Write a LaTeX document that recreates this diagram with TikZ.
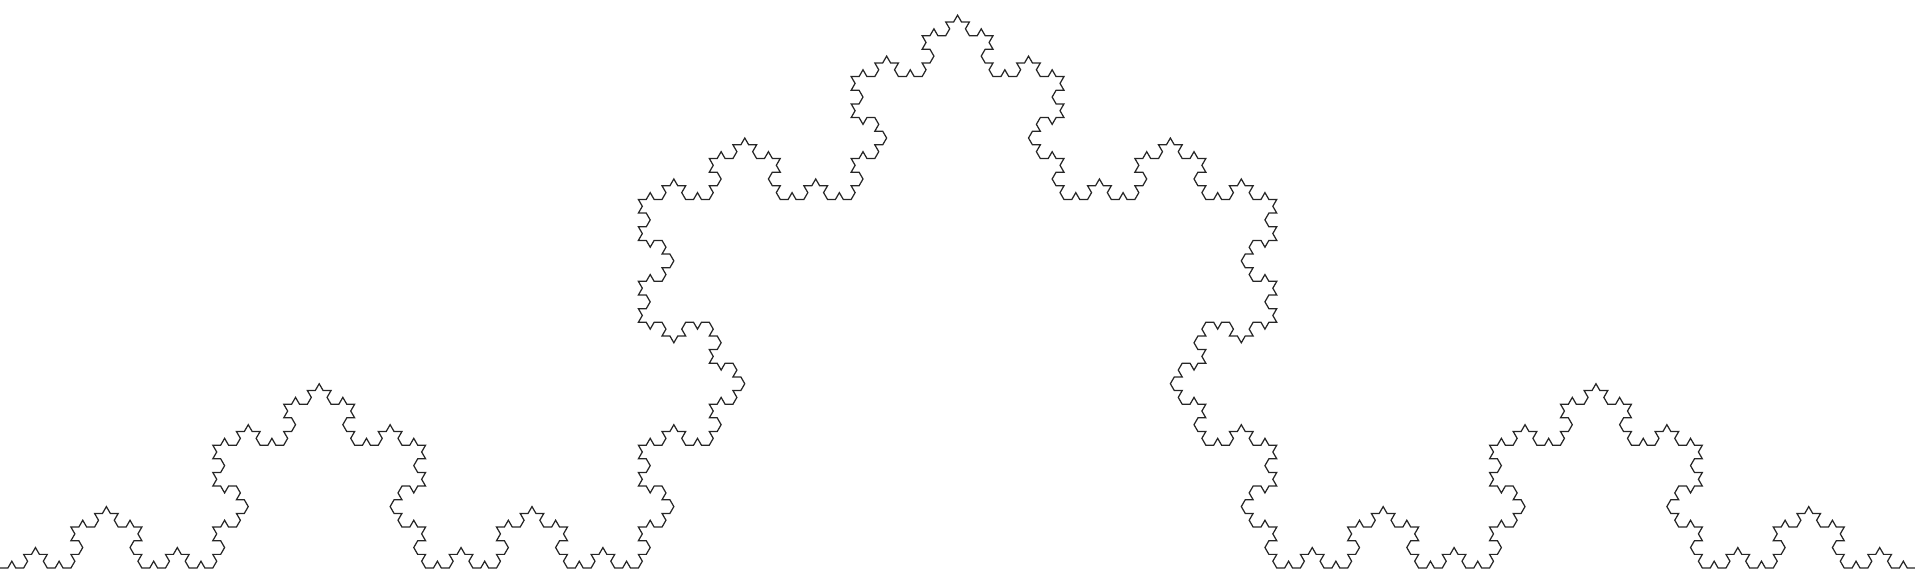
\documentclass[tikz,border=0pt]{standalone}
\usetikzlibrary{lindenmayersystems}
\pgfdeclarelindenmayersystem{KochCurve}{
  \rule{F -> F+F--F+F}
}
\begin{document}
\begin{tikzpicture}
\useasboundingbox (0,-0.14) rectangle (19.15,5.68);
\coordinate (start) at (0,0);
\draw[line width=0.35pt, black!85, line join=miter]
  (start) [l-system={KochCurve, axiom=F, order=5, step=0.0788066cm, angle=60}]
  lindenmayer system;
\end{tikzpicture}
\end{document}
